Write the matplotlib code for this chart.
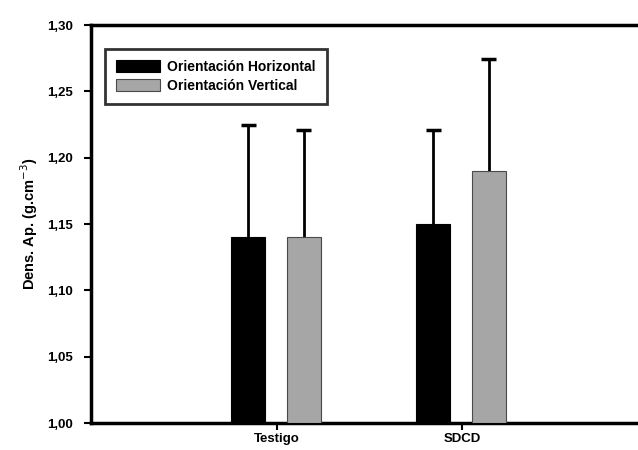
import matplotlib
matplotlib.use("Agg")
import matplotlib.pyplot as plt
import numpy as np

plt.rcParams['font.family'] = ['Liberation Sans', 'DejaVu Sans']

categories = ["Testigo", "SDCD"]
series_names = ["Orientación Horizontal", "Orientación Vertical"]
horizontal = [1.14, 1.15]
vertical = [1.14, 1.19]
horizontal_err = [0.085, 0.071]
vertical_err = [0.081, 0.084]
y_ticks = [1.00, 1.05, 1.10, 1.15, 1.20, 1.25, 1.30]
y_tick_labels = ["1,00", "1,05", "1,10", "1,15", "1,20", "1,25", "1,30"]

fig = plt.figure(figsize=(6.38, 4.5), dpi=100)
ax = fig.add_axes([91 / 638, 27 / 450, (638 - 91) / 638, (423 - 25) / 450])

x = np.arange(len(categories))
width = 0.185
base = 1.0
offsets = (-0.155, 0.145)
cap_half = 0.04


def upper_error(xpos, tops, errs):
    tops = np.asarray(tops)
    ends = tops + np.asarray(errs)
    ax.vlines(xpos, tops, ends, color="black", linewidth=2.0, zorder=2)
    ax.hlines(ends, xpos - cap_half, xpos + cap_half, color="black", linewidth=2.5, zorder=2)


ax.bar(x + offsets[0], np.array(horizontal) - base, width, bottom=base,
       color="black", edgecolor="black", linewidth=0.8, label=series_names[0], zorder=3)
ax.bar(x + offsets[1], np.array(vertical) - base, width, bottom=base,
       color="#a6a6a6", edgecolor="#4a4a4a", linewidth=0.8, label=series_names[1], zorder=3)

upper_error(x + offsets[0], horizontal, horizontal_err)
upper_error(x + offsets[1], vertical, vertical_err)

ax.set_ylim(1.0, 1.30)
ax.set_xlim(-1.005, 1.951)
ax.set_yticks(y_ticks)
ax.set_yticklabels(y_tick_labels, fontsize=9.5, fontweight="bold")
ax.set_xticks(x)
ax.set_xticklabels(categories, fontsize=9.5, fontweight="bold")
ax.tick_params(axis="both", direction="out", length=5, width=1.5)
ax.tick_params(axis="y", pad=8)
ax.tick_params(axis="x", pad=2)

for side in ["left", "bottom", "top"]:
    ax.spines[side].set_linewidth(2.5)
ax.spines["right"].set_visible(False)

ax.set_ylabel("Dens. Ap. (g.cm$^{-3}$)", fontsize=10.5, fontweight="bold", labelpad=5)

leg = ax.legend(loc="upper left", bbox_to_anchor=(0.025, 0.94), fontsize=10,
                frameon=True, fancybox=False, edgecolor="black",
                handlelength=3.2, handleheight=1.0, borderpad=0.8,
                labelspacing=0.35, handletextpad=0.5, borderaxespad=0)
leg.get_frame().set_linewidth(2.0)
for t in leg.get_texts():
    t.set_fontweight("bold")

fig.savefig("out.png", dpi=100)
